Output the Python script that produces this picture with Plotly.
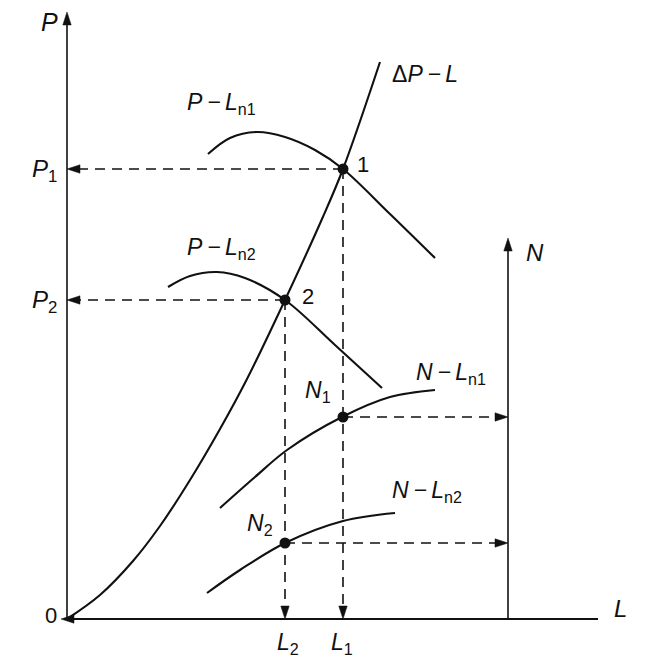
import plotly.graph_objects as go

# ---- data (L, P units; schematic) ----
dp_L = [0, 33, 66, 93, 123, 153, 180, 218, 255, 276, 313]
dp_P = [0, 24, 58, 93, 139, 190, 240, 319, 400, 450, 557]

pln1_L = [141, 163, 190, 218, 248, 276, 323, 368]
pln1_P = [465, 481, 487, 482, 469, 450, 405, 361]

pln2_L = [101, 123, 150, 178, 218, 268, 315]
pln2_P = [332, 343, 347, 341, 319, 274, 231]

nln1_L = [153, 188, 220, 275, 323, 368]
nln1_N = [111, 142, 169, 202, 222, 229]

nln2_L = [140, 173, 218, 276, 328]
nln2_N = [26, 49, 76, 98, 106]

L_ops = [276, 218]      # L1, L2
P_ops = [450, 319]      # P1, P2
N_ops = [202, 76]       # N1, N2
N_axis_L = 441
P_axis_top = 607
N_axis_top = 381
L_axis_end = 531

fig = go.Figure()
BLACK = "#111"

def curve(x, y, w=2.1):
    fig.add_trace(go.Scatter(x=x, y=y, mode="lines", line=dict(color=BLACK, width=w, shape="spline", smoothing=1.0), hoverinfo="skip"))

def seg(x, y, w=1.6, dash=None):
    fig.add_trace(go.Scatter(x=x, y=y, mode="lines", line=dict(color=BLACK, width=w, dash=dash), hoverinfo="skip"))

def head(tx, ty, d, length=13, half=4.2):
    if d == "left":
        path = f"M{tx},{ty} L{tx+length},{ty+half} L{tx+length},{ty-half} Z"
    elif d == "right":
        path = f"M{tx},{ty} L{tx-length},{ty+half} L{tx-length},{ty-half} Z"
    elif d == "down":
        path = f"M{tx},{ty} L{tx-half},{ty+length} L{tx+half},{ty+length} Z"
    else:
        path = f"M{tx},{ty} L{tx-half},{ty-length} L{tx+half},{ty-length} Z"
    fig.add_shape(type="path", path=path, fillcolor=BLACK, line=dict(color=BLACK, width=0.5), xref="x", yref="y")

# axes
seg([0, 0], [0, P_axis_top - 10], w=1.6)
head(0, P_axis_top, "up")
seg([-2, L_axis_end], [0, 0], w=1.8)
head(-6, 0, "left")
seg([N_axis_L, N_axis_L], [0, N_axis_top - 10], w=1.6)
head(N_axis_L, N_axis_top, "up")

# curves
curve(dp_L, dp_P)
curve(pln1_L, pln1_P)
curve(pln2_L, pln2_P)
curve(nln1_L, nln1_N)
curve(nln2_L, nln2_N)

DASH = "10px,7px"
for Lv, Pv, Nv in zip(L_ops, P_ops, N_ops):
    seg([Lv, 12], [Pv, Pv], dash=DASH)
    head(0, Pv, "left")
    seg([Lv, Lv], [Pv, 12], dash=DASH)
    head(Lv, 0, "down")
    seg([Lv, N_axis_L - 12], [Nv, Nv], dash=DASH)
    head(N_axis_L, Nv, "right")

# operating points
fig.add_trace(go.Scatter(x=L_ops + L_ops, y=P_ops + N_ops, mode="markers",
                         marker=dict(color=BLACK, size=11), hoverinfo="skip"))

FONT = "Liberation Sans, Arial, sans-serif"
def label(x, y, text, size=20, xanchor="center", yanchor="middle"):
    fig.add_annotation(x=x, y=y, xref="x", yref="y", text=text, showarrow=False,
                       font=dict(family=FONT, size=size, color=BLACK),
                       xanchor=xanchor, yanchor=yanchor)

TS = "\u2009"
label(-18, 597, "<i>P</i>", size=25)
label(-8, 449, "<i>P</i><sub>1</sub>", size=24, xanchor="right")
label(-8, 318, "<i>P</i><sub>2</sub>", size=24, xanchor="right")
label(-8, 4, "0", size=22, xanchor="right")
label(553, 11, "<i>L</i>", size=24)
label(221, -24, "<i>L</i><sub>2</sub>", size=23)
label(275, -24, "<i>L</i><sub>1</sub>", size=23)
label(468, 367, "<i>N</i>", size=24)
label(358, 545, f"Δ<i>P{TS}−{TS}L</i>", size=23)
label(154, 516, f"<i>P{TS}−{TS}L</i><sub>n1</sub>", size=23)
label(154, 371, f"<i>P{TS}−{TS}L</i><sub>n2</sub>", size=23)
label(384, 246, f"<i>N{TS}−{TS}L</i><sub>n1</sub>", size=23)
label(360, 128, f"<i>N{TS}−{TS}L</i><sub>n2</sub>", size=23)
label(251, 228, "<i>N</i><sub>1</sub>", size=23)
label(193, 95, "<i>N</i><sub>2</sub>", size=23)
label(296, 455, "1", size=22)
label(241, 323, "2", size=22)

fig.update_layout(
    width=663, height=669,
    margin=dict(l=0, r=0, t=0, b=0),
    paper_bgcolor="white", plot_bgcolor="white",
    showlegend=False,
    xaxis=dict(range=[-59, 604], visible=False, fixedrange=True),
    yaxis=dict(range=[-58, 611], visible=False, fixedrange=True),
)
fig.write_html("out.html")
